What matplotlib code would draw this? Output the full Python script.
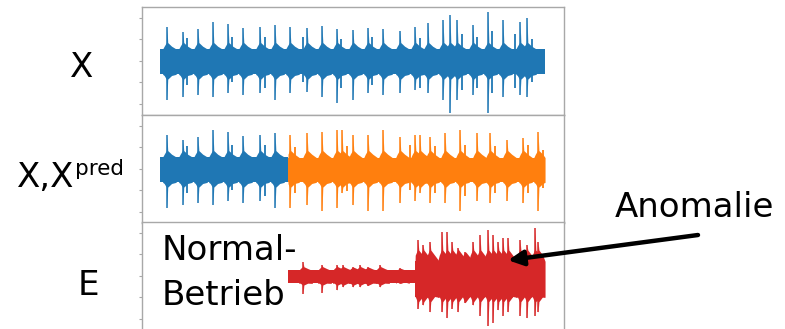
import matplotlib
matplotlib.use("Agg")
import matplotlib.pyplot as plt

plt.rcParams['font.family'] = ['DejaVu Sans']

BLUE = '#1f77b4'
ORANGE = '#ff7f0e'
RED = '#d62728'
FRAME = '#a8a8a8'

# time axis in seconds, one bearing pass roughly every second
t_end = 25.0
t_split = 8.31      # prediction starts here
t_anomaly = 16.56   # error grows from here on

# measured signal X: main peaks (time, upper amplitude, lower amplitude)
x_peak_t = [0.45, 1.49, 2.47, 3.44, 4.42, 5.39, 6.49, 7.47, 8.44, 9.55, 10.52,
            11.49, 12.53, 13.51, 14.48, 15.58, 16.56, 17.40, 18.38, 18.83,
            19.29, 20.32, 21.30, 22.27, 23.38, 23.83]
x_peak_up = [0.63, 0.54, 0.59, 0.72, 0.69, 0.61, 0.63, 0.67, 0.63, 0.61, 0.65,
             0.59, 0.57, 0.61, 0.59, 0.56, 0.63, 0.70, 0.76, 0.85, 0.76, 0.67,
             0.91, 0.76, 0.72, 0.80]
x_peak_dn = [0.72, 0.67, 0.63, 0.67, 0.59, 0.63, 0.59, 0.72, 0.59, 0.57, 0.67,
             0.78, 0.72, 0.59, 0.63, 0.59, 0.54, 0.59, 0.72, 0.96, 0.72, 0.63,
             0.96, 0.67, 0.63, 0.67]
# smaller side peaks of X
x_side_t = [1.75, 4.68, 6.82, 9.29, 11.75, 13.77, 16.88, 19.61, 20.58, 21.56,
            23.05, 24.16]
x_side_up = [0.42, 0.45, 0.44, 0.45, 0.40, 0.45, 0.42, 0.50, 0.45, 0.55, 0.50,
             0.40]
x_side_dn = [0.45, 0.40, 0.50, 0.40, 0.50, 0.45, 0.50, 0.55, 0.50, 0.60, 0.50,
             0.40]
x_band = (0.22, 0.25)

# predicted signal X_pred after t_split
p_peak_t = [8.44, 9.55, 10.52, 11.49, 11.82, 12.53, 13.51, 14.48, 15.58, 16.56,
            16.88, 17.53, 18.51, 19.48, 20.58, 21.43, 22.53, 23.57, 24.55]
p_peak_up = [0.63, 0.66, 0.68, 0.72, 0.72, 0.63, 0.63, 0.72, 0.59, 0.63, 0.63,
             0.59, 0.66, 0.72, 0.66, 0.66, 0.53, 0.57, 0.68]
p_peak_dn = [0.72, 0.68, 0.78, 0.72, 0.45, 0.68, 0.78, 0.78, 0.64, 0.59, 0.45,
             0.64, 0.64, 0.78, 0.59, 0.64, 0.59, 0.64, 0.78]
p_side_t = [8.77, 12.14, 16.23, 17.86, 19.81, 21.75, 23.90, 24.87]
p_side_up = [0.40, 0.42, 0.45, 0.42, 0.45, 0.42, 0.45, 0.35]
p_side_dn = [0.45, 0.42, 0.40, 0.45, 0.50, 0.45, 0.45, 0.35]
p_band = (0.21, 0.25)

# prediction error E: quiet part, then the anomaly
e_quiet_t = [9.29, 10.52, 11.49, 11.88, 12.53, 12.99, 13.51, 14.29, 15.58]
e_quiet_up = [0.25, 0.20, 0.20, 0.20, 0.16, 0.20, 0.16, 0.20, 0.14]
e_quiet_dn = [0.33, 0.31, 0.27, 0.21, 0.21, 0.21, 0.18, 0.21, 0.14]
e_quiet_band = (0.10, 0.14)
e_peak_t = [16.75, 17.08, 17.53, 18.31, 18.64, 18.96, 19.35, 19.81, 20.32,
            20.78, 21.30, 21.62, 21.95, 22.27, 22.60, 23.38, 23.83, 24.35, 24.55]
e_peak_up = [0.66, 0.57, 0.63, 0.81, 0.81, 0.63, 0.51, 0.44, 0.63, 0.76, 0.85,
             0.76, 0.63, 0.70, 0.70, 0.66, 0.57, 0.89, 0.63]
e_peak_dn = [0.61, 0.55, 0.68, 0.68, 0.79, 0.61, 0.68, 0.50, 0.55, 0.74, 0.93,
             0.87, 0.64, 0.74, 0.68, 0.74, 0.79, 0.74, 0.68]
e_loud_band = (0.27, 0.40)


def burst(ax, t, up, dn, band, shoulder, color, t0, t1):
    # a peak rising out of a short, decaying widening of the carrier
    su, sd = min(up, shoulder), min(dn, shoulder)
    xs = [t - 0.28, t - 0.18, t - 0.04, t, t + 0.05, t + 0.30, t + 0.60]
    xs = [min(max(x, t0), t1) for x in xs]
    top = [band[0], 0.8 * su, su, up, su, 0.8 * su, band[0]]
    bot = [-band[1], -0.8 * sd, -sd, -dn, -sd, -0.8 * sd, -band[1]]
    ax.fill_between(xs, bot, top, color=color, lw=0)


def draw_signal(ax, t0, t1, band, peak_t, peak_up, peak_dn,
                side_t=(), side_up=(), side_dn=(), color=BLUE, shoulder=0.34):
    ax.fill_between([t0, t1], [-band[1]] * 2, [band[0]] * 2, color=color, lw=0)
    for t, u, d in zip(peak_t, peak_up, peak_dn):
        if t0 + 0.1 <= t <= t1:
            burst(ax, t, u, d, band, shoulder, color, t0, t1)
    sel = [(t, u, d) for t, u, d in zip(side_t, side_up, side_dn) if t0 <= t <= t1]
    if sel:
        ts, us, ds = zip(*sel)
        ax.vlines(ts, [-d for d in ds], us, color=color, lw=1.3)
    sel = [(t, u, d) for t, u, d in zip(peak_t, peak_up, peak_dn) if t0 <= t <= t1]
    if sel:
        ts, us, ds = zip(*sel)
        ax.vlines(ts, [-d for d in ds], us, color=color, lw=1.1)


W, H = 785, 329
fig = plt.figure(figsize=(W / 100, H / 100), dpi=100)

left, right = 142 / W, 564 / W
tops = [7, 115, 222]
panel_h = 107.7
axes = []
for top in tops:
    ax = fig.add_axes([left, 1 - (top + panel_h) / H, right - left, panel_h / H])
    ax.set_xlim(-1.17, 26.23)
    ax.set_ylim(-1, 1)
    ax.set_xticks([])
    ax.set_yticks([-0.8, -0.4, 0, 0.4, 0.8])
    ax.set_yticklabels([])
    ax.tick_params(axis='y', length=2.5, width=0.8, color=FRAME)
    for s in ax.spines.values():
        s.set_color(FRAME)
        s.set_linewidth(1.0)
    axes.append(ax)
ax1, ax2, ax3 = axes

# X
draw_signal(ax1, 0, t_end, x_band, x_peak_t, x_peak_up, x_peak_dn,
            x_side_t, x_side_up, x_side_dn, color=BLUE)

# X up to t_split, then X_pred
draw_signal(ax2, 0, t_split, x_band, x_peak_t, x_peak_up, x_peak_dn,
            x_side_t, x_side_up, x_side_dn, color=BLUE)
draw_signal(ax2, t_split, t_end, p_band, p_peak_t, p_peak_up, p_peak_dn,
            p_side_t, p_side_up, p_side_dn, color=ORANGE)

# E
draw_signal(ax3, t_split, t_anomaly, e_quiet_band, e_quiet_t, e_quiet_up,
            e_quiet_dn, color=RED, shoulder=0.17)
draw_signal(ax3, t_anomaly, t_end, e_loud_band, e_peak_t, e_peak_up, e_peak_dn,
            color=RED, shoulder=0.48)


def px(x, y):
    return x / W, 1 - y / H


fs = 24.5
fig.text(*px(82, 77), 'X', fontsize=fs, ha='center', va='baseline')
fig.text(*px(17, 187), 'X,X', fontsize=fs, ha='left', va='baseline')
fig.text(*px(75, 175), 'pred', fontsize=15.5, ha='left', va='baseline')
fig.text(*px(88, 295), 'E', fontsize=fs, ha='center', va='baseline')
fig.text(*px(162, 260), 'Normal-', fontsize=fs, ha='left', va='baseline')
fig.text(*px(162, 305), 'Betrieb', fontsize=fs, ha='left', va='baseline')
fig.text(*px(615, 217), 'Anomalie', fontsize=fs, ha='left', va='baseline')

ax3.annotate('', xy=(22.6, 0.29), xycoords='data',
             xytext=px(698, 235), textcoords='figure fraction',
             arrowprops=dict(arrowstyle='-|>,head_length=0.9,head_width=0.45',
                             color='black', lw=3.2, shrinkA=0, shrinkB=0),
             annotation_clip=False)

fig.savefig('out.png', dpi=100)
